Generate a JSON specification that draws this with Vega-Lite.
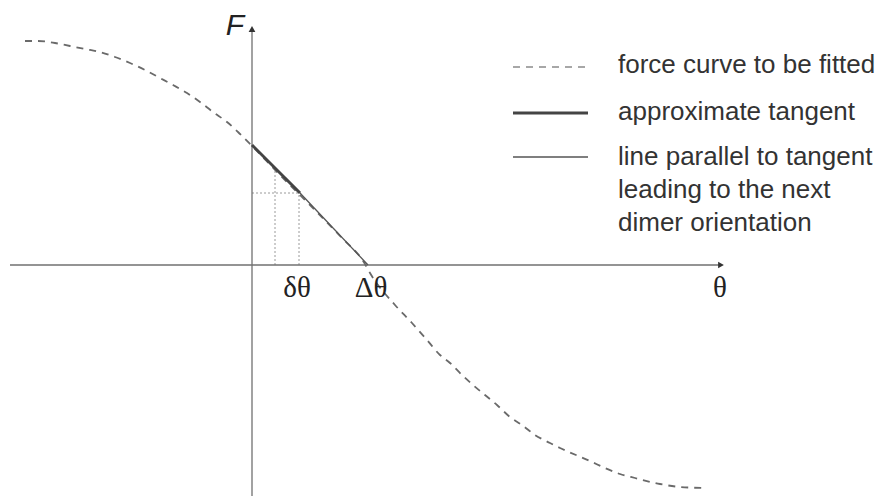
{
  "$schema": "https://vega.github.io/schema/vega-lite/v6.json",
  "width": 881,
  "height": 496,
  "padding": 0,
  "autosize": {"type": "none"},
  "background": "white",
  "config": {"view": {"stroke": null}},
  "datasets": {
    "curve": [
      {"theta": -2.27, "F": 2.24}, {"theta": -2.14, "F": 2.24}, {"theta": -1.97, "F": 2.22},
      {"theta": -1.82, "F": 2.19}, {"theta": -1.67, "F": 2.16}, {"theta": -1.52, "F": 2.13},
      {"theta": -1.37, "F": 2.08}, {"theta": -1.22, "F": 2.02}, {"theta": -1.07, "F": 1.95},
      {"theta": -0.92, "F": 1.87}, {"theta": -0.79, "F": 1.80}, {"theta": -0.65, "F": 1.72},
      {"theta": -0.52, "F": 1.63}, {"theta": -0.39, "F": 1.53}, {"theta": -0.25, "F": 1.43},
      {"theta": -0.14, "F": 1.33}, {"theta": 0.0, "F": 1.19}, {"theta": 0.28, "F": 0.90},
      {"theta": 0.58, "F": 0.60}, {"theta": 0.88, "F": 0.29}, {"theta": 1.13, "F": 0.01},
      {"theta": 1.18, "F": -0.08}, {"theta": 1.43, "F": -0.40}, {"theta": 1.60, "F": -0.58},
      {"theta": 1.75, "F": -0.75}, {"theta": 1.88, "F": -0.90}, {"theta": 1.98, "F": -0.98},
      {"theta": 2.10, "F": -1.10}, {"theta": 2.21, "F": -1.20}, {"theta": 2.33, "F": -1.30},
      {"theta": 2.45, "F": -1.40}, {"theta": 2.58, "F": -1.52}, {"theta": 2.70, "F": -1.60},
      {"theta": 2.83, "F": -1.70}, {"theta": 2.98, "F": -1.78}, {"theta": 3.08, "F": -1.83},
      {"theta": 3.38, "F": -1.96}, {"theta": 3.53, "F": -2.03}, {"theta": 3.68, "F": -2.09},
      {"theta": 3.83, "F": -2.13}, {"theta": 4.08, "F": -2.19}, {"theta": 4.28, "F": -2.22},
      {"theta": 4.53, "F": -2.23}
    ],
    "segments": [
      {"part": "xaxis", "theta": -2.42, "F": 0},
      {"part": "xaxis", "theta": 4.70, "F": 0},
      {"part": "yaxis", "theta": 0, "F": -2.31},
      {"part": "yaxis", "theta": 0, "F": 2.37},
      {"part": "tangent", "theta": 0, "F": 1.20},
      {"part": "tangent", "theta": 0.48, "F": 0.72},
      {"part": "parallel", "theta": 0.48, "F": 0.72},
      {"part": "parallel", "theta": 1.16, "F": 0.0},
      {"part": "key_curve", "theta": 2.61, "F": 1.98},
      {"part": "key_curve", "theta": 3.35, "F": 1.98},
      {"part": "key_tangent", "theta": 2.61, "F": 1.52},
      {"part": "key_tangent", "theta": 3.36, "F": 1.52},
      {"part": "key_parallel", "theta": 2.61, "F": 1.08},
      {"part": "key_parallel", "theta": 3.36, "F": 1.08},
      {"part": "guide_a", "theta": 0.23, "F": 0.0},
      {"part": "guide_a", "theta": 0.23, "F": 0.95},
      {"part": "guide_b", "theta": 0.47, "F": 0.0},
      {"part": "guide_b", "theta": 0.47, "F": 0.72},
      {"part": "guide_c", "theta": 0.0, "F": 0.72},
      {"part": "guide_c", "theta": 0.47, "F": 0.72}
    ],
    "arrows": [
      {"dir": "up", "theta": 0, "F": 2.36},
      {"dir": "right", "theta": 4.69, "F": 0}
    ],
    "symbols": [
      {"label": "F", "theta": -0.17, "F": 2.30, "style": "italic"},
      {"label": "δθ", "theta": 0.45, "F": -0.32, "style": "serif"},
      {"label": "Δθ", "theta": 1.19, "F": -0.32, "style": "serif"},
      {"label": "θ", "theta": 4.68, "F": -0.32, "style": "serif"}
    ],
    "keytext": [
      {"label": "force curve to be fitted", "theta": 3.66, "F": 1.92},
      {"label": "approximate tangent", "theta": 3.66, "F": 1.45},
      {"label": "line parallel to tangent", "theta": 3.66, "F": 1.00},
      {"label": "leading to the next", "theta": 3.66, "F": 0.67},
      {"label": "dimer orientation", "theta": 3.66, "F": 0.34}
    ]
  },
  "encoding": {
    "x": {"field": "theta", "type": "quantitative", "scale": {"domain": [-2.52, 6.29], "nice": false, "zero": false}, "axis": null},
    "y": {"field": "F", "type": "quantitative", "scale": {"domain": [-2.31, 2.65], "nice": false, "zero": false}, "axis": null}
  },
  "layer": [
    {
      "data": {"name": "segments"},
      "transform": [{"filter": "indexof(['guide_a','guide_b','guide_c'], datum.part) >= 0"}],
      "mark": {"type": "line", "color": "#9a9a9a", "strokeWidth": 1, "strokeDash": [2, 2]},
      "encoding": {"detail": {"field": "part"}}
    },
    {
      "data": {"name": "segments"},
      "transform": [{"filter": "datum.part === 'xaxis' || datum.part === 'yaxis'"}],
      "mark": {"type": "line", "color": "#707070", "strokeWidth": 1.3},
      "encoding": {"detail": {"field": "part"}}
    },
    {
      "data": {"name": "arrows"},
      "mark": {"type": "point", "filled": true, "color": "#333333", "size": 45, "opacity": 1},
      "encoding": {
        "shape": {"field": "dir", "type": "nominal", "scale": {"domain": ["up", "right"], "range": ["triangle-up", "triangle-right"]}, "legend": null}
      }
    },
    {
      "data": {"name": "curve"},
      "mark": {"type": "line", "color": "#6a6a6a", "strokeWidth": 1.8, "strokeDash": [7, 6], "interpolate": "monotone"}
    },
    {
      "data": {"name": "segments"},
      "transform": [{"filter": "datum.part === 'tangent' || datum.part === 'key_tangent'"}],
      "mark": {"type": "line", "color": "#444444", "strokeWidth": 3},
      "encoding": {"detail": {"field": "part"}}
    },
    {
      "data": {"name": "segments"},
      "transform": [{"filter": "datum.part === 'parallel' || datum.part === 'key_parallel'"}],
      "mark": {"type": "line", "color": "#555555", "strokeWidth": 1.3},
      "encoding": {"detail": {"field": "part"}}
    },
    {
      "data": {"name": "segments"},
      "transform": [{"filter": "datum.part === 'key_curve'"}],
      "mark": {"type": "line", "color": "#8a8a8a", "strokeWidth": 1.6, "strokeDash": [7, 6]}
    },
    {
      "data": {"name": "symbols"},
      "transform": [{"filter": "datum.style === 'italic'"}],
      "mark": {"type": "text", "font": "Liberation Sans", "fontStyle": "italic", "fontSize": 30, "align": "center", "baseline": "alphabetic", "color": "#222222"},
      "encoding": {"text": {"field": "label"}}
    },
    {
      "data": {"name": "symbols"},
      "transform": [{"filter": "datum.style === 'serif'"}],
      "mark": {"type": "text", "font": "Liberation Serif", "fontSize": 29, "align": "center", "baseline": "alphabetic", "color": "#222222"},
      "encoding": {"text": {"field": "label"}}
    },
    {
      "data": {"name": "keytext"},
      "mark": {"type": "text", "font": "Liberation Sans", "fontSize": 26, "align": "left", "baseline": "alphabetic", "color": "#333333"},
      "encoding": {"text": {"field": "label"}}
    }
  ]
}
